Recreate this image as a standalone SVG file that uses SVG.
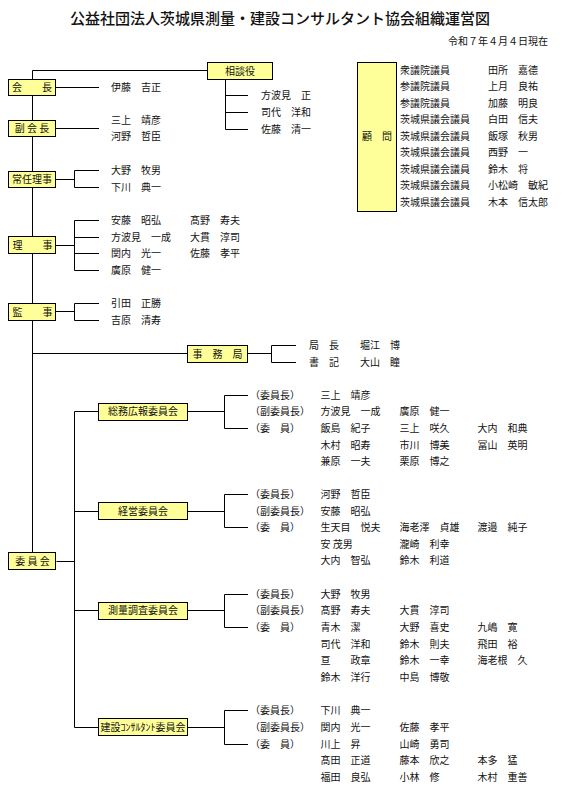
<svg xmlns="http://www.w3.org/2000/svg" width="563" height="798" viewBox="0 0 563 798">
<style>
.box{fill:#FFFF99;stroke:#000;stroke-width:1}
.ln{stroke:#000;stroke-width:1;fill:none}
text{font-family:"Noto Sans CJK JP","Noto Sans CJK SC",sans-serif;font-size:10px;fill:#111}
.m{text-anchor:middle}
.title{font-size:15px;font-weight:500}
</style>
<rect width="563" height="798" fill="#fff"/>
<g id="connectors" class="ln">
<path d="M32.5 70.5V552.5M32.5 70.5H207.5"/>
<path d="M225.5 79.5V129.5M225.5 95.5H248M225.5 112.5H248M225.5 129.5H248"/>
<path d="M55.5 87.5H99"/>
<path d="M55.5 128.5H99"/>
<path d="M55.5 179.5H74.5M74.5 170.5V187.5M74.5 170.5H99M74.5 187.5H99"/>
<path d="M55.5 245.5H74.5M74.5 220.5V270.5M74.5 220.5H99M74.5 237.5H99M74.5 253.5H99M74.5 270.5H99"/>
<path d="M55.5 311.5H74.5M74.5 303.5V320.5M74.5 303.5H99M74.5 320.5H99"/>
<path d="M32.5 353.5H187.5M247.5 353.5H271.5M271.5 345.5V362.5M271.5 345.5H296M271.5 362.5H296"/>
<path d="M74.5 411.5V727.5M56.5 561.5H74.5"/>
<path d="M74.5 411.5H98.5M187.5 411.5H224.5M224.5 395.5V428.5M224.5 395.5H248M224.5 428.5H248"/>
<path d="M74.5 511.5H98.5M187.5 511.5H224.5M224.5 494.5V527.5M224.5 494.5H248M224.5 527.5H248"/>
<path d="M74.5 610.5H98.5M187.5 610.5H224.5M224.5 594.5V627.5M224.5 594.5H248M224.5 627.5H248"/>
<path d="M74.5 727.5H98.5M187.5 727.5H224.5M224.5 710.5V744.5M224.5 710.5H248M224.5 744.5H248"/>
</g>
<g id="title">
<text class="title m" x="280" y="24">公益社団法人茨城県測量・建設コンサルタント協会組織運営図</text>
<text x="548" y="44.5" text-anchor="end">令和７年４月４日現在</text>
</g>
<g id="soudanyaku">
<rect class="box" x="207.5" y="62.5" width="65" height="17"/>
<text class="m" x="240" y="74.5">相談役</text>
<text x="261" y="99">方波見　正</text>
<text x="261" y="116">司代　洋和</text>
<text x="261" y="133">佐藤　清一</text>
</g>
<g id="kaicho">
<rect class="box" x="8.5" y="79.5" width="47" height="16"/>
<text class="m" x="32" y="91">会　　長</text>
<text x="111" y="91">伊藤　吉正</text>
</g>
<g id="fukukaicho">
<rect class="box" x="8.5" y="120.5" width="47" height="16"/>
<text class="m" x="32" y="132">副 会 長</text>
<text x="111" y="124">三上　靖彦</text>
<text x="111" y="140">河野　哲臣</text>
</g>
<g id="joninriji">
<rect class="box" x="8.5" y="171.5" width="47" height="16"/>
<text class="m" x="32" y="183">常任理事</text>
<text x="111" y="174">大野　牧男</text>
<text x="111" y="191">下川　典一</text>
</g>
<g id="riji">
<rect class="box" x="8.5" y="236.5" width="47" height="17"/>
<text class="m" x="32.5" y="248.5">理　　事</text>
<text x="111" y="224">安藤　昭弘</text>
<text x="111" y="241">方波見　一成</text>
<text x="111" y="257">関内　光一</text>
<text x="111" y="274">廣原　健一</text>
<text x="190" y="224">髙野　寿夫</text>
<text x="190" y="241">大貫　淳司</text>
<text x="190" y="257">佐藤　孝平</text>
</g>
<g id="kanji">
<rect class="box" x="8.5" y="303.5" width="47" height="17"/>
<text class="m" x="32.5" y="315.5">監　　事</text>
<text x="111" y="307">引田　正勝</text>
<text x="111" y="324">吉原　清寿</text>
</g>
<g id="jimukyoku">
<rect class="box" x="187.5" y="345.5" width="60" height="17"/>
<text class="m" x="217.5" y="357.5">事　務　局</text>
<text x="309" y="349">局　長</text>
<text x="360" y="349">堀江　博</text>
<text x="309" y="366">書　記</text>
<text x="360" y="366">大山　瞳</text>
</g>
<g id="komon">
<rect class="box" x="357.5" y="62.5" width="39" height="149"/>
<text class="m" x="377" y="139.5">顧　問</text>
<text x="400" y="73.5">衆議院議員</text><text x="488" y="73.5">田所　嘉德</text>
<text x="400" y="90">参議院議員</text><text x="488" y="90">上月　良祐</text>
<text x="400" y="106.5">参議院議員</text><text x="488" y="106.5">加藤　明良</text>
<text x="400" y="123">茨城県議会議員</text><text x="488" y="123">白田　信夫</text>
<text x="400" y="139.5">茨城県議会議員</text><text x="488" y="139.5">飯塚　秋男</text>
<text x="400" y="156">茨城県議会議員</text><text x="488" y="156">西野　一</text>
<text x="400" y="172.5">茨城県議会議員</text><text x="488" y="172.5">鈴木　将</text>
<text x="400" y="189">茨城県議会議員</text><text x="488" y="189">小松崎　敏紀</text>
<text x="400" y="205.5">茨城県議会議員</text><text x="488" y="205.5">木本　信太郎</text>
</g>
<g id="iinkai">
<rect class="box" x="8.5" y="552.5" width="47" height="17"/>
<text class="m" x="32.5" y="565">委 員 会</text>
</g>
<g id="soumu">
<rect class="box" x="98.5" y="403.5" width="89" height="17"/>
<text class="m" x="143" y="415">総務広報委員会</text>
<text x="250" y="398.5">（委員長）</text>
<text x="250" y="415">（副委員長）</text>
<text x="250" y="431.5">（委　員）</text>
<text x="320.5" y="398.5">三上　靖彦</text>
<text x="320.5" y="415">方波見　一成</text><text x="399.5" y="415">廣原　健一</text>
<text x="320.5" y="431.5">飯島　紀子</text><text x="399.5" y="431.5">三上　咲久</text><text x="477.5" y="431.5">大内　和典</text>
<text x="320.5" y="448.5">木村　昭寿</text><text x="399.5" y="448.5">市川　博美</text><text x="477.5" y="448.5">冨山　英明</text>
<text x="320.5" y="465">兼原　一夫</text><text x="399.5" y="465">栗原　博之</text>
</g>
<g id="keiei">
<rect class="box" x="98.5" y="502.5" width="89" height="17"/>
<text class="m" x="143" y="515">経営委員会</text>
<text x="250" y="497.5">（委員長）</text>
<text x="250" y="515">（副委員長）</text>
<text x="250" y="531">（委　員）</text>
<text x="320.5" y="497.5">河野　哲臣</text>
<text x="320.5" y="515">安藤　昭弘</text>
<text x="320.5" y="531">生天目　悦夫</text><text x="399.5" y="531">海老澤　貞雄</text><text x="477.5" y="531">渡邉　純子</text>
<text x="320.5" y="547.5">安 茂男</text><text x="399.5" y="547.5">瀧崎　利幸</text>
<text x="320.5" y="564">大内　智弘</text><text x="399.5" y="564">鈴木　利道</text>
</g>
<g id="sokuryo">
<rect class="box" x="98.5" y="602.5" width="89" height="17"/>
<text class="m" x="143" y="614">測量調査委員会</text>
<text x="250" y="598">（委員長）</text>
<text x="250" y="614">（副委員長）</text>
<text x="250" y="631">（委　員）</text>
<text x="320.5" y="598">大野　牧男</text>
<text x="320.5" y="614">髙野　寿夫</text><text x="399.5" y="614">大貫　淳司</text>
<text x="320.5" y="631">青木　潔</text><text x="399.5" y="631">大野　喜史</text><text x="477.5" y="631">九嶋　寛</text>
<text x="320.5" y="647.5">司代　洋和</text><text x="399.5" y="647.5">鈴木　則夫</text><text x="477.5" y="647.5">飛田　裕</text>
<text x="320.5" y="664">亘　　政章</text><text x="399.5" y="664">鈴木　一幸</text><text x="477.5" y="664">海老根　久</text>
<text x="320.5" y="681">鈴木　洋行</text><text x="399.5" y="681">中島　博敬</text>
</g>
<g id="kensetsu">
<rect class="box" x="98.5" y="718.5" width="89" height="17"/>
<text class="m" x="143" y="731">建設ｺﾝｻﾙﾀﾝﾄ委員会</text>
<text x="250" y="713.5">（委員長）</text>
<text x="250" y="731">（副委員長）</text>
<text x="250" y="747.5">（委　員）</text>
<text x="320.5" y="713.5">下川　典一</text>
<text x="320.5" y="731">関内　光一</text><text x="399.5" y="731">佐藤　孝平</text>
<text x="320.5" y="747.5">川上　昇</text><text x="399.5" y="747.5">山崎　勇司</text>
<text x="320.5" y="764">髙田　正道</text><text x="399.5" y="764">藤本　欣之</text><text x="477.5" y="764">本多　猛</text>
<text x="320.5" y="781">福田　良弘</text><text x="399.5" y="781">小林　修</text><text x="477.5" y="781">木村　重善</text>
</g>
</svg>
